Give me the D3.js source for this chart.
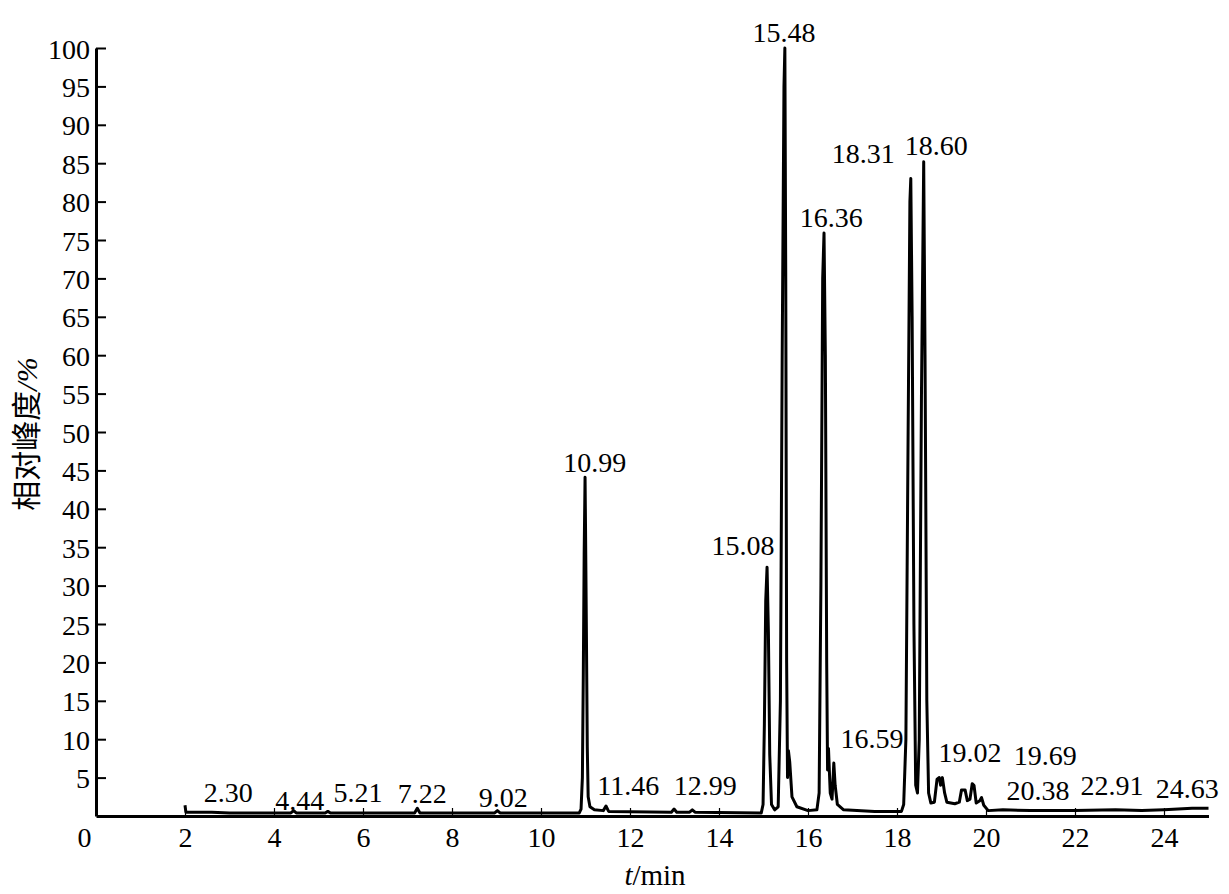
<!DOCTYPE html>
<html>
<head>
<meta charset="utf-8">
<script src="https://cdn.jsdelivr.net/npm/d3@7"></script>
<style>
body { margin: 0; background: #fff; }
svg text { font-family: "Liberation Serif", "Times New Roman", serif; fill: #000; }
</style>
</head>
<body>
<script>

// chromatogram trace, [time (min), relative abundance (%)]
var trace = [
	[2.00,1.4],[2.02,0.5],[2.60,0.5],[3.00,0.4],[4.38,0.4],[4.44,0.7],[4.50,0.4],
	[5.15,0.4],[5.21,0.6],[5.27,0.4],[7.16,0.4],[7.22,1.0],[7.28,0.4],
	[8.96,0.4],[9.02,0.7],[9.08,0.4],[10.86,0.4],[10.90,0.9],[10.93,5.0],
	[10.95,18],[10.97,34],[10.99,44.1],[11.00,38],[11.02,24],[11.04,9],[11.06,2.5],
	[11.10,1.2],[11.20,0.8],[11.40,0.7],[11.46,1.3],[11.52,0.6],[12.93,0.5],
	[12.99,0.9],[13.05,0.5],[13.34,0.5],[13.40,0.8],[13.46,0.5],[14.95,0.4],
	[14.99,1.5],[15.02,12],[15.05,28],[15.08,32.4],[15.11,24],[15.14,8],[15.18,1.5],
	[15.25,0.8],[15.33,1.2],[15.38,15],[15.42,60],[15.46,95],[15.48,100],[15.50,70],
	[15.52,20],[15.54,5],[15.56,8.5],[15.59,7],[15.64,2.5],[15.75,1.2],[16.00,0.7],
	[16.20,0.8],[16.25,3],[16.29,30],[16.33,70],[16.36,75.9],[16.39,60],[16.42,20],
	[16.44,6],[16.46,8.8],[16.50,3],[16.54,2.2],[16.58,6.9],[16.61,4],[16.66,1.5],
	[16.80,0.8],[17.50,0.6],[18.10,0.6],[18.15,1.5],[18.20,10],[18.25,50],[18.29,80],
	[18.31,83.0],[18.34,65],[18.38,25],[18.42,4],[18.46,3.0],[18.50,10],[18.55,55],
	[18.60,85.2],[18.63,60],[18.67,15],[18.71,3],[18.76,1.7],[18.84,1.8],[18.90,4.8],
	[18.95,5.0],[18.98,4.0],[19.02,5.0],[19.07,3],[19.12,1.8],[19.30,1.6],[19.40,1.8],
	[19.45,3.4],[19.53,3.4],[19.58,2.0],[19.64,2.2],[19.69,4.2],[19.73,4.0],[19.78,1.7],
	[19.86,2.0],[19.90,2.4],[19.95,1.4],[20.05,0.7],[20.38,0.8],[21.00,0.7],[22.00,0.7],
	[22.91,0.8],[23.50,0.7],[24.00,0.8],[24.63,1.0],[25.00,1.0]
];

// peak labels and where each one sits (time, %)
var peakNames = ["2.30","4.44","5.21","7.22","9.02","10.99","11.46","12.99","15.08","15.48",
	"16.36","18.31","18.60","16.59","19.02","19.69","20.38","22.91","24.63"];
var labelTime = [2.97,4.58,5.89,7.33,9.15,11.21,11.96,13.69,14.54,15.46,
	16.52,17.24,18.88,17.44,19.64,21.33,21.17,22.83,24.52];
var labelValue = [1.8,0.8,1.8,1.7,1.2,44.8,2.7,2.7,34.0,100.8,
	76.7,85.0,86.1,8.9,7.0,6.6,2.1,2.7,2.3];

var xTicks = [0,2,4,6,8,10,12,14,16,18,20,22,24];
var yTicks = [5,10,15,20,25,30,35,40,45,50,55,60,65,70,75,80,85,90,95,100];

var W = 1229, H = 894;
var marginLeft = 96, marginTop = 48, plotW = 1112.5, plotH = 768;

var svg = d3.select("body").append("svg")
	.attr("width", W)
	.attr("height", H);

var x = d3.scaleLinear().domain([0, 25]).range([marginLeft, marginLeft + plotW]);
var y = d3.scaleLinear().domain([0, 100]).range([marginTop + plotH, marginTop]);

// x axis, ticks point up into the plot
var gx = svg.append("g")
	.attr("transform", "translate(0," + (marginTop + plotH) + ")")
	.call(d3.axisBottom(x).tickValues(xTicks).tickSize(-8).tickSizeOuter(0).tickPadding(11)
		.tickFormat(d3.format("d")));
gx.select(".domain").attr("stroke-width", 3);
gx.selectAll(".tick line").attr("stroke-width", 1.2);
gx.selectAll(".tick text").attr("font-size", 28)
	.attr("font-family", "Liberation Serif")
	.attr("dx", function(d){ return d === 0 ? -12 : 0 });
gx.selectAll(".tick").filter(function(d){ return d === 0 }).select("line").remove();

// y axis, ticks point right
var gy = svg.append("g")
	.attr("transform", "translate(" + marginLeft + ",0)")
	.call(d3.axisLeft(y).tickValues(yTicks).tickSize(-10).tickSizeOuter(0).tickPadding(6)
		.tickFormat(d3.format("d")));
gy.select(".domain").attr("stroke-width", 3);
gy.selectAll(".tick line").attr("stroke-width", 2);
gy.selectAll(".tick text").attr("font-size", 28)
	.attr("font-family", "Liberation Serif")
	.attr("dy", "0.36em");

// trace
var line = d3.line()
	.x(function(d){ return x(d[0]) })
	.y(function(d){ return y(d[1]) });

svg.append("path")
	.datum(trace)
	.attr("d", line)
	.attr("fill", "none")
	.attr("stroke", "#000")
	.attr("stroke-width", 3)
	.attr("stroke-linejoin", "round");

// peak labels
svg.selectAll("text.peak")
	.data(peakNames)
	.enter()
	.append("text")
	.attr("class", "peak")
	.attr("x", function(d, i){ return x(labelTime[i]) })
	.attr("y", function(d, i){ return y(labelValue[i]) })
	.attr("text-anchor", "middle")
	.attr("font-size", 28)
	.text(function(d){ return d });

// axis titles
var xt = svg.append("text")
	.attr("x", 655)
	.attr("y", 885)
	.attr("text-anchor", "middle")
	.attr("font-size", 29);
xt.append("tspan").attr("font-style", "italic").text("t");
xt.append("tspan").text("/min");

var yt = svg.append("text")
	.attr("transform", "translate(37,434) rotate(-90)")
	.attr("text-anchor", "middle")
	.attr("font-size", 30);
yt.append("tspan").style("font-family", "'Noto Sans CJK SC'").text("相对峰度");
yt.append("tspan").attr("font-style", "italic").text("/%");

</script>
</body>
</html>
